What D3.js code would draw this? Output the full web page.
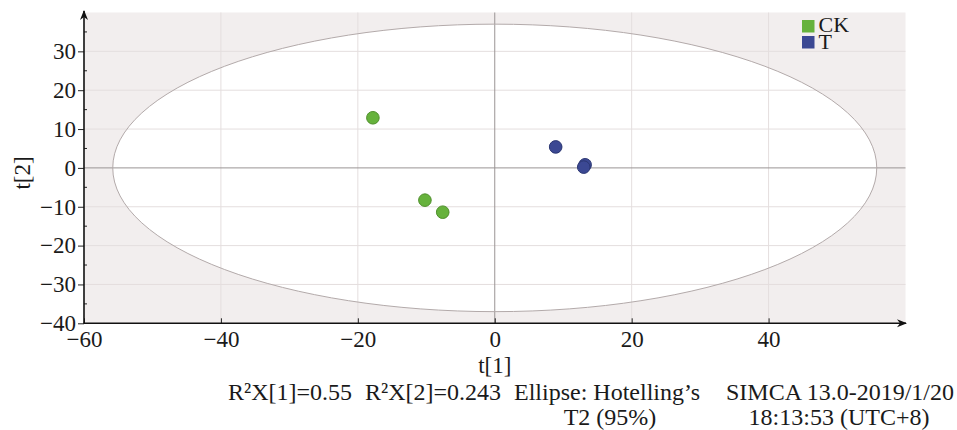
<!DOCTYPE html>
<html><head><meta charset="utf-8">
<script src="https://cdn.jsdelivr.net/npm/d3@7"></script>
<style>body{margin:0;background:#fff}svg{display:block}text{font-family:"Liberation Serif","Times New Roman",serif;fill:#1a1a1a}</style>
</head><body><div id="chart"></div>
<script>
// ---- data ----
const groups = ["CK", "T"];
const groupColors = ["#66b23c", "#3b4893"];
const ckX = [-17.8, -10.2, -7.6];
const ckY = [12.9, -8.3, -11.4];
const tX = [8.9, 13.2, 13.0];
const tY = [5.4, 0.8, 0.2];
const xTicks = [-60, -40, -20, 0, 20, 40];
const yTicks = [-40, -30, -20, -10, 0, 10, 20, 30];
const yMinorTicks = [-35, -25, -15, -5, 5, 15, 25, 35];
const ellipseRadii = [55.8, 37.0];
const footerLine1 = ["R\u00b2X[1]=0.55", "R\u00b2X[2]=0.243", "Ellipse: Hotelling\u2019s", "SIMCA 13.0-2019/1/20"];
const footerLine2 = ["T2 (95%)", "18:13:53 (UTC+8)"];

const W = 957, H = 430;
const svg = d3.select("#chart").append("svg").attr("width", W).attr("height", H);
const x = d3.scaleLinear().domain([-60, 60]).range([84, 905.5]);
const y = d3.scaleLinear().domain([-40, 40]).range([323.3, 12.5]);

// background
svg.append("rect").attr("x", x(-60)).attr("y", y(40)).attr("width", x(60) - x(-60)).attr("height", y(-40) - y(40)).attr("fill", "#f2eeee");
// ellipse fill
svg.append("ellipse").attr("cx", x(0)).attr("cy", y(0))
  .attr("rx", x(ellipseRadii[0]) - x(0)).attr("ry", y(0) - y(ellipseRadii[1]))
  .attr("fill", "#ffffff").attr("stroke", "none");
// grid
const g = svg.append("g");
g.selectAll(".vg").data(xTicks.filter(d => d !== 0 && d !== -60)).join("line")
  .attr("x1", d => x(d)).attr("x2", d => x(d)).attr("y1", y(40)).attr("y2", y(-40))
  .attr("stroke", "#e4dede").attr("stroke-width", 1);
g.selectAll(".hg").data(yTicks.filter(d => d !== 0 && d !== -40)).join("line")
  .attr("x1", x(-60)).attr("x2", x(60)).attr("y1", d => y(d)).attr("y2", d => y(d))
  .attr("stroke", "#e4dede").attr("stroke-width", 1);
// zero lines
g.append("line").attr("x1", x(0)).attr("x2", x(0)).attr("y1", y(40)).attr("y2", y(-40)).attr("stroke", "#9a9494").attr("stroke-width", 1);
g.append("line").attr("x1", x(-60)).attr("x2", x(60)).attr("y1", y(0)).attr("y2", y(0)).attr("stroke", "#9a9494").attr("stroke-width", 1);
// ellipse stroke
svg.append("ellipse").attr("cx", x(0)).attr("cy", y(0))
  .attr("rx", x(ellipseRadii[0]) - x(0)).attr("ry", y(0) - y(ellipseRadii[1]))
  .attr("fill", "none").attr("stroke", "#b3aaaa").attr("stroke-width", 1);

// axes
const xAxis = d3.axisBottom(x).tickValues(xTicks).tickSizeInner(-5).tickSizeOuter(0).tickPadding(7.5)
  .tickFormat(d => d < 0 ? "\u2212" + Math.abs(d) : d);
const xg = svg.append("g").attr("transform", `translate(0,${y(-40)})`).call(xAxis);
xg.select(".domain").remove();
xg.selectAll("text").attr("font-size", 23).attr("dy", "0.71em").attr("fill", "#1a1a1a");
xg.selectAll("line").attr("stroke", "#222");

const yAxis = d3.axisLeft(y).tickValues(yTicks).tickSizeInner(6).tickSizeOuter(0).tickPadding(2)
  .tickFormat(d => d < 0 ? "\u2212" + Math.abs(d) : d);
const yg = svg.append("g").attr("transform", `translate(${x(-60)},0)`).call(yAxis);
yg.select(".domain").remove();
yg.selectAll("text").attr("font-size", 23).attr("fill", "#1a1a1a");
yg.selectAll("line").attr("stroke", "#222");
svg.append("g").selectAll("line").data(yMinorTicks).join("line")
  .attr("x1", x(-60)).attr("x2", x(-60) + 3).attr("y1", d => y(d)).attr("y2", d => y(d)).attr("stroke", "#222");

// axis lines with arrows
const defs = svg.append("defs");
defs.append("marker").attr("id", "arr").attr("viewBox", "0 0 10 10").attr("refX", 9).attr("refY", 5)
  .attr("markerWidth", 10).attr("markerHeight", 10).attr("markerUnits", "userSpaceOnUse").attr("orient", "auto")
  .append("path").attr("d", "M0,1 L10,5 L0,9 L3,5 Z").attr("fill", "#111");
svg.append("line").attr("x1", x(-60)).attr("x2", x(-60)).attr("y1", y(-40) + 0.5).attr("y2", 11)
  .attr("stroke", "#111").attr("stroke-width", 1.6).attr("marker-end", "url(#arr)");
svg.append("line").attr("x1", x(-60) - 0.5).attr("x2", 906).attr("y1", y(-40)).attr("y2", y(-40))
  .attr("stroke", "#111").attr("stroke-width", 1.6).attr("marker-end", "url(#arr)");

// points
const pts = [];
ckX.forEach((v, i) => pts.push({x: v, y: ckY[i], g: 0}));
tX.forEach((v, i) => pts.push({x: v, y: tY[i], g: 1}));
const strokes = ["#4f8f2c", "#2b3672"];
svg.append("g").selectAll("circle").data(pts).join("circle")
  .attr("cx", d => x(d.x)).attr("cy", d => y(d.y)).attr("r", 6.3)
  .attr("fill", d => groupColors[d.g]).attr("stroke", d => strokes[d.g]).attr("stroke-width", 1);

// legend (labels in one text block, one line per group)
const lg = svg.append("g");
groups.forEach((name, i) => {
  lg.append("rect").attr("x", 802).attr("y", 20 + i * 16).attr("width", 12.5).attr("height", 12.5).attr("fill", groupColors[i]);
});
lg.append("text").attr("font-size", 22).selectAll("tspan").data(groups).join("tspan")
  .attr("x", 818.5).attr("y", (d, i) => 32 + i * 16.5).text(d => d);

// axis titles
svg.append("text").attr("x", x(0)).attr("y", 373).attr("text-anchor", "middle").attr("font-size", 23).text("t[1]");
svg.append("text").attr("transform", `translate(30,173) rotate(-90)`).attr("text-anchor", "middle").attr("font-size", 23).text("t[2]");

// footer
const f1x = [228, 365, 514, 726];
footerLine1.forEach((t, i) => svg.append("text").attr("x", f1x[i]).attr("y", 400).attr("font-size", 24).text(t));
const f2x = [610, 839];
footerLine2.forEach((t, i) => svg.append("text").attr("x", f2x[i]).attr("y", 425).attr("text-anchor", "middle").attr("font-size", 24).text(t));
</script></body></html>
